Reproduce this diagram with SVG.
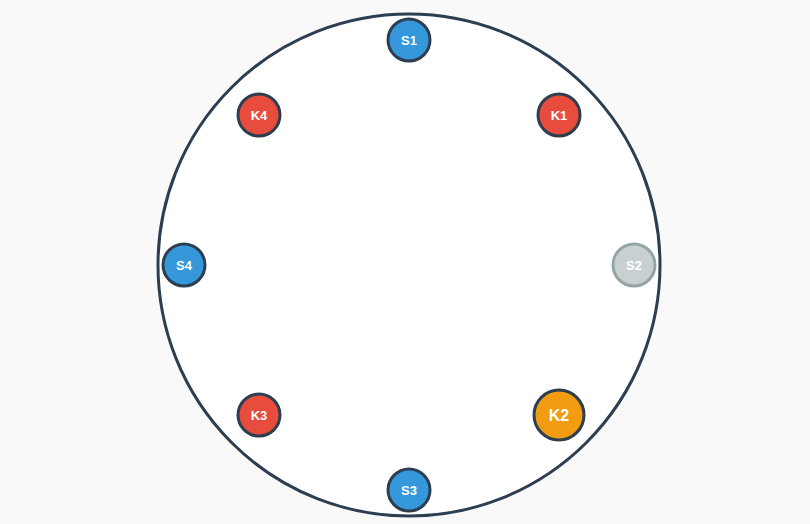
<svg xmlns="http://www.w3.org/2000/svg" width="810" height="524" viewBox="0 0 810 524">
<style>
.n{stroke:#2c3e50;stroke-width:3}
.s{fill:#3498db}
.k{fill:#e74c3c}
.t{font-family:"Liberation Sans",Arial,sans-serif;font-weight:bold;font-size:13px;fill:#fff;text-anchor:middle;dominant-baseline:central}
</style>
<rect width="810" height="524" fill="#f9f9f9"/>
<g id="connectors">
<circle id="ring" cx="409" cy="265" r="251" fill="#fff" stroke="#2c3e50" stroke-width="3"/>
</g>
<g id="S1"><circle class="n s" cx="409" cy="40" r="21"/><text class="t" x="409" y="40">S1</text></g>
<g id="K1"><circle class="n k" cx="559" cy="115" r="21"/><text class="t" x="559" y="115">K1</text></g>
<g id="S2"><circle cx="634" cy="265" r="21" fill="#c9d0d1" stroke="#95a5a6" stroke-width="3"/><text class="t" x="634" y="265">S2</text></g>
<g id="K2"><circle class="n" cx="559" cy="415" r="25" fill="#f39c12"/><text class="t" x="559" y="415" style="font-size:16px">K2</text></g>
<g id="S3"><circle class="n s" cx="409" cy="490" r="21"/><text class="t" x="409" y="490">S3</text></g>
<g id="K3"><circle class="n k" cx="259" cy="415" r="21"/><text class="t" x="259" y="415">K3</text></g>
<g id="S4"><circle class="n s" cx="184" cy="265" r="21"/><text class="t" x="184" y="265">S4</text></g>
<g id="K4"><circle class="n k" cx="259" cy="115" r="21"/><text class="t" x="259" y="115">K4</text></g>
</svg>
